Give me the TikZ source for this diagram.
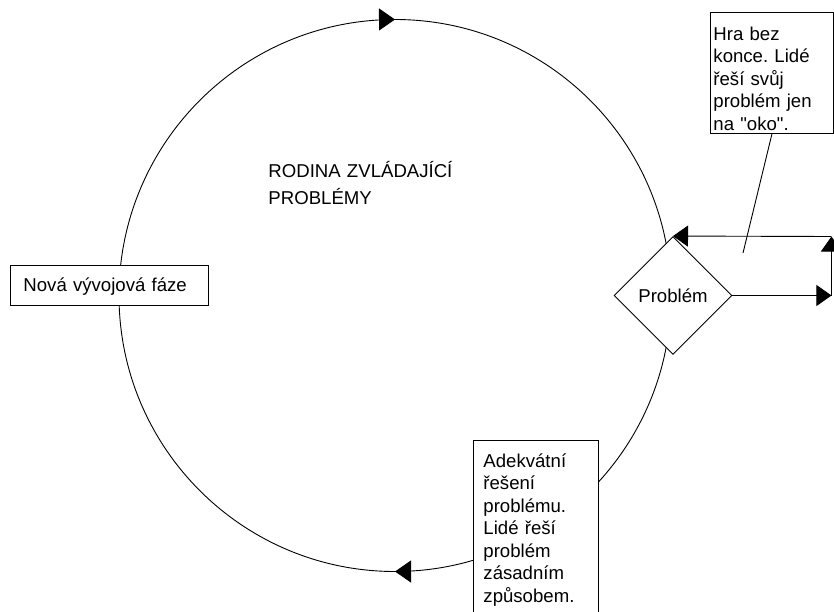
\documentclass[tikz,border=0pt]{standalone}
\usepackage{fontspec}
\setmainfont{Liberation Sans}[Ligatures=TeXOff]
\usepackage{tikz}
\usetikzlibrary{positioning, arrows.meta, shapes.geometric, decorations.markings}
\frenchspacing
\tikzset{kasten/.style={rectangle,draw,fill=white,anchor=north west,inner ysep=0pt,align=left},
	raute/.style={diamond,draw,fill=white,minimum width=118pt,minimum height=118pt,inner sep=1pt},
	pfeil/.style={-{Triangle[length=15pt,width=21pt]}},
	spitze/.tip={Triangle[length=16pt,width=22pt]} }

\begin{document}
\begin{tikzpicture}
	[x=1pt, y=-1pt,
	 line width=0.9pt,
	 font=\fontsize{18.6}{22.5}\selectfont,
	 kreispfeile/.style={postaction={decorate},
	 	decoration={markings,
	 		mark=at position 0.25 with {\arrow{spitze}},
	 		mark=at position 0.75 with {\arrow{spitze}}}}]

  \useasboundingbox (0,0) rectangle (834,612);
  \clip (0,0) rectangle (834,612);

  \coordinate (mitte) at (395,295.5);
  \draw [kreispfeile] (mitte) circle [radius=276];

  \node (faze) [kasten, text width=172pt, inner xsep=13pt, text height=26pt, text depth=14pt] at (10,265) {Nová vývojová fáze};
  \node (hra) [kasten, text width=117pt, inner xsep=3pt, text height=28pt, text depth=93pt] at (710,12)
  	{Hra bez\\ konce. Lidé\\ řeší svůj\\ problém jen\\ na "oko".};
  \node (reseni) [kasten, text width=105pt, inner xsep=10pt, text height=27pt, text depth=183pt] at (473,440)
  	{Adekvátní\\ řešení\\ problému.\\ Lidé řeší\\ problém\\ zásadním\\ způsobem.};
  \node (problem) [raute] at (673,295.5) {Problém};
  \node (titel) [anchor=base west, inner sep=0pt, text width=230pt, align=left, font=\fontsize{18.6}{27}\selectfont] at (268,178)
  	{RODINA ZVLÁDAJÍCÍ\\ PROBLÉMY};

  \coordinate [right=99pt of problem.east] (ecke1);
  \coordinate [above=59pt of ecke1] (ecke2);
  \coordinate (zeiger) at (743,253);

  \draw [pfeil] (problem.east) -- (ecke1);
  \draw [pfeil] (ecke1) -- (ecke2);
  \draw [pfeil] (ecke2) -- (problem.north);
  \draw (hra.south) -- (zeiger);
\end{tikzpicture}
\end{document}
